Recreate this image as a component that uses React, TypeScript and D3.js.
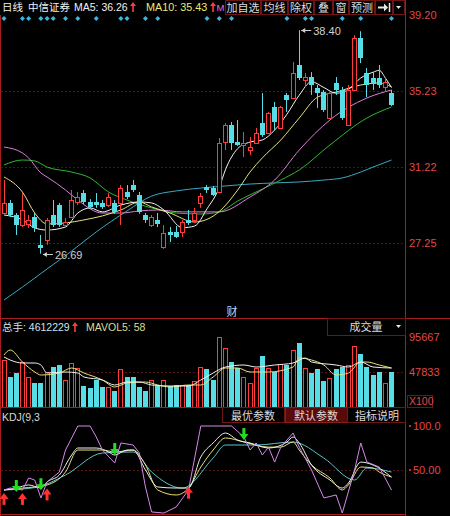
import React from "react";
import * as d3 from "d3";

// ---------- DATA ----------
const opens = [28.82,29.35,28.72,28.19,28.25,28.61,27.15,27.41,28.72,29.24,28.19,28.61,29.40,29.87,29.40,29.40,29.35,29.24,29.35,29.35,29.92,30.29,29.77,28.72,28.19,28.46,27.04,27.83,27.83,27.83,28.46,28.46,29.35,30.19,30.13,29.92,32.54,33.44,32.54,32.39,32.12,32.49,33.54,33.02,34.38,33.28,35.01,34.85,36.58,35.79,35.95,35.37,35.16,33.80,35.64,35.27,33.44,35.27,37.99,36.16,35.90,35.90,35.43,35.11];
const highs = [30.55,29.50,28.82,29.87,28.72,28.82,27.67,28.56,29.50,29.35,28.56,30.03,29.92,30.03,29.55,29.87,29.50,29.87,29.50,30.29,30.29,30.55,29.92,28.82,28.72,28.82,28.19,28.09,28.14,28.46,28.98,29.09,29.87,30.29,30.24,32.75,33.54,33.59,33.70,33.07,32.81,33.28,35.11,34.12,34.64,34.43,35.11,36.74,38.40,36.16,36.21,35.53,35.27,35.16,35.95,35.43,35.53,38.15,38.35,36.42,36.21,36.58,35.90,35.27];
const lows = [28.78,28.61,27.67,28.09,28.04,27.83,26.69,27.15,28.09,28.09,28.04,28.56,29.24,29.29,29.09,29.09,29.04,29.14,28.78,28.19,29.55,29.92,28.78,28.30,28.09,28.09,26.94,27.30,27.51,27.57,28.19,28.30,29.09,29.87,29.71,29.87,32.12,32.12,32.34,31.76,31.86,32.44,32.81,32.96,33.17,33.23,34.12,34.80,35.79,35.43,35.01,34.33,34.12,33.75,35.01,33.70,33.39,35.22,36.68,34.90,35.27,35.37,35.16,34.43];
const closes = [29.35,28.72,28.19,28.98,28.46,28.04,26.99,28.46,28.19,28.19,28.35,29.50,29.66,29.40,29.14,29.24,29.14,29.66,28.88,30.13,29.66,30.03,28.88,28.46,28.61,28.25,27.78,27.67,27.57,28.35,28.30,28.82,29.71,30.03,29.77,32.49,33.44,32.49,32.39,32.49,32.28,33.02,32.91,34.06,33.59,34.38,34.75,36.16,35.90,35.95,35.53,35.11,34.22,35.11,35.27,33.80,35.27,37.99,36.95,35.53,35.58,35.53,35.69,34.48];
const volumes = [64000,41000,46500,61500,41000,33000,33000,48000,54700,57400,37000,60000,53000,28700,26000,37000,27300,27300,22000,52000,41000,41000,27300,22000,37000,28700,37000,28700,30000,30000,30000,35500,54700,52000,37000,95667,80600,61500,53000,41000,33000,53000,69700,53000,48000,59000,57400,78000,87500,53000,46500,52000,35500,39600,52000,54700,57400,83400,72400,54700,43700,48000,33000,48000];

// moving averages: [candle index, value]
const ma5 = [[0,28.72],[3,28.46],[5,28.04],[7,27.93],[10,28.09],[12,28.82],[14,29.09],[16,28.88],[19,29.24],[22,29.40],[24,29.35],[26,28.98],[29,28.05],[31,28.14],[33,29.04],[35,30.16],[36,31.09],[38,32.2],[40,32.54],[42,32.65],[44,33.17],[46,34.0],[48,35.0],[50,35.7],[52,35.4],[54,35.1],[56,35.3],[58,35.9],[60,36.2],[61,36.3],[62,35.9],[63,35.4]];
const ma10 = [[0,30.71],[3,29.92],[5,28.82],[7,28.25],[10,28.30],[13,28.46],[16,28.67],[19,28.98],[22,29.40],[24,29.14],[27,28.82],[31,28.35],[35,28.9],[38,30.03],[40,30.97],[42,31.71],[45,32.65],[48,33.80],[51,34.90],[54,35.16],[58,35.53],[61,35.64],[63,35.43]];
const ma20 = [[0,32.28],[3,31.97],[4,31.71],[6,30.92],[7,30.71],[10,30.03],[12,29.50],[16,28.82],[19,28.82],[22,28.93],[25,28.98],[29,28.88],[35,28.88],[40,29.66],[44,30.55],[48,32.12],[53,33.70],[59,34.85],[63,35.27]];
const ma30 = [[0,31.34],[3,31.60],[5,31.55],[7,31.23],[11,30.97],[14,30.66],[17,29.92],[20,29.50],[24,29.09],[28,28.82],[32,28.77],[35,28.88],[38,29.45],[42,30.08],[45,30.55],[48,31.08],[53,32.39],[59,33.80],[63,34.38]];
const ma60 = [[0,24.26],[3,24.94],[7,25.89],[11,26.83],[15,27.83],[20,28.93],[24,29.71],[28,29.98],[32,30.13],[36,30.24],[40,30.34],[44,30.40],[48,30.45],[52,30.55],[55,30.66],[58,30.97],[60,31.23],[63,31.60]];

const volMa5 = [[0,68333],[1,64233],[3,60133],[5,60133],[6,57400],[7,46467],[10,47833],[12,46467],[13,41000],[16,36900],[18,30067],[20,34167],[22,34167],[24,30067],[27,28700],[30,28700],[32,36900],[34,46467],[36,54667],[39,57400],[41,54667],[44,57400],[47,60133],[49,66967],[50,61500],[54,57400],[56,54667],[58,61500],[60,54667],[63,53300]];
const volMa10 = [[0,71067],[1,77900],[3,61500],[5,47833],[6,43733],[9,46467],[11,53300],[13,46467],[16,36900],[18,27333],[20,32800],[23,34167],[25,30067],[27,27333],[30,30067],[32,30067],[34,41000],[36,53300],[38,53300],[40,47833],[43,47833],[47,54667],[48,66967],[50,64233],[52,57400],[54,43733],[56,46467],[58,61500],[59,61500],[61,57400],[63,53300]];

const kLine = [[0,27.3],[2,29.5],[4,33],[6,29.5],[7,36.4],[9,44.3],[11,67],[12,75],[15,75],[17,70.5],[18,67],[20,72.7],[21,72.7],[23,50],[25,30.7],[28,29.5],[30,29.5],[32,64.8],[34,80.7],[36,92],[38,84],[40,80.7],[43,75],[46,81.8],[47,87.5],[48,80.7],[50,55.7],[53,38.6],[55,29.5],[56,35.2],[58,59],[60,55.7],[63,42]];
const dLine = [[0,27.3],[3,29.5],[5,30.7],[7,33],[10,47.7],[12,72.7],[16,72.7],[18,70.5],[21,72.7],[23,55.7],[25,27.3],[28,21.6],[30,29.5],[32,53.4],[34,72.7],[36,86.4],[39,81.8],[43,76],[45,76],[47,81.8],[48,72.7],[50,55.7],[53,40.9],[55,27.3],[56,33],[58,53.4],[60,52.3],[61,47.7],[63,42]];
const jLine = [[0,27.3],[1,29.5],[3,27.3],[4,40.9],[5,38.6],[6,18.2],[7,36.4],[9,47.7],[10,72.7],[12,100],[14,100],[15,87.5],[16,72.7],[18,58],[19,80.7],[21,78.4],[22,69.3],[23,30.7],[24,2.3],[26,1.1],[28,8],[30,27.3],[32,100],[37,100],[39,87.5],[40,72.7],[41,80.7],[42,67],[43,76],[44,59],[45,76],[47,92],[48,76],[50,50],[52,18.2],[54,21.6],[55,1.1],[57,50],[58,80.7],[59,59],[61,53.4],[63,27.3]];
const eLine = [[0,27.3],[5,30],[10,44.3],[16,69.3],[21,70.5],[24,47.7],[29,29.5],[34,63.6],[36,78.4],[41,78.4],[47,81.8],[52,63.6],[57,38.6],[59,52.3],[63,47.7]];

const buySignals = [[0,24],[3,24],[7,29],[30,31]];
const sellSignals = [[2,25],[6,27],[18,67],[39,84]];
const infoMarks = [0,3,4,6,7,8,10,12,15,19,20,23,25,33,35,37,46,49,50,55,58,63];

const priceTicks = [39.20, 35.23, 31.22, 27.25];
const volTicks = [95667, 47833];
const kdjTicks = [[100, "100.0"], [50, "50.00"]];
const highMark = [48, 38.40];
const lowMark = [6, 26.69];

const topButtons = ["加自选", "均线", "除权", "叠", "窗", "预测"];
const kdjButtons = ["最优参数", "默认参数", "指标说明"];

// ---------- STYLE ----------
const RED = "#ff3b3b";
const CYAN = "#56dde6";
const AXIS = "#a81c1c";
const LABEL = "#e04848";
const GRID = "#551414";
const FONT = "'Liberation Sans','Noto Sans CJK SC',sans-serif";

export default function App() {
  const N = closes.length;
  const x = d3.scaleLinear().domain([0, N - 1]).range([4, 391.5]);
  const yP = d3.scaleLinear().domain([27.25, 39.2]).range([243, 15]);
  const yV = d3.scaleLinear().domain([0, 95667]).range([407, 337]);
  const yK = d3.scaleLinear().domain([0, 100]).range([514, 426]);

  const px = (i: number) => Math.floor(x(i)) + 0.5;
  const lineP = d3.line<number[]>().x(d => x(d[0])).y(d => yP(d[1])).curve(d3.curveMonotoneX);
  const lineV = d3.line<number[]>().x(d => x(d[0])).y(d => yV(d[1])).curve(d3.curveMonotoneX);
  const lineK = d3.line<number[]>().x(d => x(d[0])).y(d => yK(d[1])).curve(d3.curveMonotoneX);
  const lineJ = d3.line<number[]>().x(d => x(d[0])).y(d => yK(d[1])).curve(d3.curveLinear);

  // top button geometry
  const btnEdges = [225, 261, 288, 314, 333, 349, 375, 393, 405];

  const upArrow = (ax: number, ay: number, color: string) => (
    <g>
      <line x1={ax} x2={ax} y1={ay - 3} y2={ay + 5} stroke={color} strokeWidth={1.6} />
      <path d={`M${ax - 3},${ay - 1} L${ax},${ay - 5} L${ax + 3},${ay - 1} Z`} fill={color} />
    </g>
  );

  return (
    <svg width={450} height={516} style={{ position: "absolute", left: 0, top: 0, display: "block", background: "#000" }} fontFamily={FONT}>
      <defs>
        <clipPath id="pclip"><rect x={1} y={15} width={404} height={303} /></clipPath>
        <clipPath id="vclip"><rect x={1} y={336} width={404} height={71} /></clipPath>
        <clipPath id="kclip"><rect x={1} y={424} width={404} height={90} /></clipPath>
      </defs>
      <rect x={0} y={0} width={450} height={516} fill="#000" />

      {/* grids */}
      {priceTicks.slice(1).map((t, i) => (
        <line key={i} x1={1} x2={405} y1={Math.round(yP(t)) + 0.5} y2={Math.round(yP(t)) + 0.5} stroke={GRID} strokeDasharray="2,2" />
      ))}
      <line x1={1} x2={405} y1={Math.round(yV(47833)) + 0.5} y2={Math.round(yV(47833)) + 0.5} stroke={GRID} strokeDasharray="2,2" />
      <line x1={1} x2={405} y1={Math.round(yK(50)) + 0.5} y2={Math.round(yK(50)) + 0.5} stroke={GRID} strokeDasharray="2,2" />

      {/* frame lines */}
      <line x1={0.5} x2={0.5} y1={15} y2={516} stroke={AXIS} />
      <line x1={405.5} x2={405.5} y1={0} y2={516} stroke={AXIS} />
      <line x1={0} x2={450} y1={318.5} y2={318.5} stroke={AXIS} />
      <line x1={0} x2={405} y1={407.5} y2={407.5} stroke={AXIS} />
      <line x1={0} x2={405} y1={514.5} y2={514.5} stroke={AXIS} />

      {/* header */}
      <g fontSize={11}>
        <text x={2} y={11} fill="#f0f0f0" fontSize={10.5}>日线</text>
        <text x={28} y={11} fill="#f0f0f0" fontSize={10.5}>中信证券</text>
        <text x={74} y={11} fill="#f0f0f0" fontSize={10.5}>MA5: 36.26</text>
        {upArrow(133, 7, RED)}
        <text x={146} y={11} fill="#eaea78" fontSize={10.8}>MA10: 35.43</text>
        {upArrow(213, 7, RED)}
        <text x={216.5} y={11} fill="#e070e0" fontSize={9.5}>M</text>
      </g>
      {btnEdges.slice(0, -1).map((e, i) => (
        <rect key={i} x={e + 0.5} y={0.5} width={btnEdges[i + 1] - e - 1} height={14} fill="#000" stroke="#6e1616" />
      ))}
      {topButtons.map((b, i) => (
        <text key={b} x={(btnEdges[i] + btnEdges[i + 1]) / 2} y={11.5} textAnchor="middle" fill="#dcdcdc" fontSize={11}>{b}</text>
      ))}
      <g fill="#e8e8e8" stroke="#e8e8e8">
        <path d="M378,7.5 L385,7.5" strokeWidth={2} />
        <path d="M384,3.5 L388,7.5 L384,11.5 Z" stroke="none" />
        <line x1={389.5} x2={389.5} y1={3} y2={12} strokeWidth={1.5} />
        <path d="M396,6 L401,6 L398.5,9 Z" stroke="none" />
      </g>
      {infoMarks.map(i => (
        <path key={i} d={`M${x(i)},${16} L${x(i) + 2.5},${18.5} L${x(i)},${21} L${x(i) - 2.5},${18.5} Z`} fill="#3ab6e0" />
      ))}

      {/* price axis labels */}
      {priceTicks.map(t => (
        <text key={t} x={409} y={yP(t) + 4} fill={LABEL} fontSize={11}>{t.toFixed(2)}</text>
      ))}

      {/* moving averages */}
      <g clipPath="url(#pclip)" fill="none" strokeWidth={1}>
        <path d={lineP(ma60) || ""} stroke="#3aa8c0" />
        <path d={lineP(ma30) || ""} stroke="#2fb82f" />
        <path d={lineP(ma20) || ""} stroke="#d880d8" />
        <path d={lineP(ma10) || ""} stroke="#e6e27a" />
        <path d={lineP(ma5) || ""} stroke="#f4f4f4" />
      </g>

      {/* candles */}
      <g clipPath="url(#pclip)">
        {closes.map((c, i) => {
          const o = opens[i];
          const cx = px(i);
          const top = Math.round(yP(Math.max(o, c)));
          const bot = Math.round(yP(Math.min(o, c)));
          const hy = yP(highs[i]);
          const ly = yP(lows[i]);
          if (c >= o) {
            return (
              <g key={i} stroke={RED}>
                <line x1={cx} x2={cx} y1={hy} y2={top + 0.5} />
                <line x1={cx} x2={cx} y1={bot + 0.5} y2={ly} />
                <rect x={cx - 2} y={top + 0.5} width={4} height={Math.max(bot - top, 1)} fill="#000" />
              </g>
            );
          }
          return (
            <g key={i}>
              <line x1={cx} x2={cx} y1={hy} y2={ly} stroke={CYAN} />
              <rect x={cx - 2.5} y={top} width={5} height={Math.max(bot - top, 1)} fill={CYAN} />
            </g>
          );
        })}
      </g>

      {/* high / low labels */}
      {[highMark, lowMark].map((m, k) => {
        const ax = x(m[0]) + 2;
        const ay = Math.round(yP(m[1])) + 0.5;
        return (
          <g key={k}>
            <line x1={ax} x2={ax + 10} y1={ay} y2={ay} stroke="#d0d0d0" />
            <path d={`M${ax},${ay} L${ax + 4},${ay - 2.5} L${ax + 4},${ay + 2.5} Z`} fill="#d0d0d0" />
            <text x={ax + 12} y={ay + 4} fill="#d0d0d0" fontSize={11}>{m[1].toFixed(2)}</text>
          </g>
        );
      })}

      <text x={232} y={316} textAnchor="middle" fill="#b8d8f8" fontSize={11}>财</text>

      {/* volume header */}
      <text x={2} y={331} fill="#cfe2ee" fontSize={10.5}>总手: 4612229</text>
      {upArrow(75, 327, RED)}
      <text x={86} y={331} fill="#dcdc90" fontSize={10.5}>MAVOL5: 58</text>
      <rect x={327.5} y={318.5} width={78} height={17} fill="#000" stroke="#6e1616" />
      <text x={366} y={331} textAnchor="middle" fill="#dcdcdc" fontSize={11}>成交量</text>
      <path d="M396,325 L401,325 L398.5,328 Z" fill="#e8e8e8" />
      {volTicks.map(t => (
        <text key={t} x={409} y={yV(t) + 4} fill={LABEL} fontSize={11}>{t}</text>
      ))}
      <rect x={407.5} y={395.5} width={25} height={12} fill="none" stroke="#6e1616" />
      <text x={409} y={405} fill={LABEL} fontSize={10.5}>X100</text>

      {/* volume bars */}
      <g clipPath="url(#vclip)">
        {volumes.map((v, i) => {
          const cx = px(i);
          const top = Math.round(yV(v));
          if (closes[i] >= opens[i]) {
            return <rect key={i} x={cx - 2} y={top + 0.5} width={4} height={407 - top} fill="#000" stroke={RED} />;
          }
          return <rect key={i} x={cx - 2.5} y={top} width={5} height={407 - top} fill={CYAN} />;
        })}
      </g>
      <g clipPath="url(#vclip)" fill="none">
        <path d={lineV(volMa10) || ""} stroke="#e6e27a" />
        <path d={lineV(volMa5) || ""} stroke="#f0f0f0" />
      </g>

      {/* KDJ header */}
      <text x={2} y={421} fill="#d8d8d8" fontSize={10.5}>KDJ(9,3</text>
      <rect x={222.5} y={407.5} width={62} height={15} fill="#000" stroke="#6e1616" />
      <rect x={285.5} y={407.5} width={62} height={15} fill="#5a0a0a" stroke="#8a1c1c" />
      <rect x={347.5} y={407.5} width={58} height={15} fill="#000" stroke="#6e1616" />
      {kdjButtons.map((b, i) => (
        <text key={b} x={[253, 316, 377][i]} y={419.5} textAnchor="middle" fill="#dcdcdc" fontSize={11}>{b}</text>
      ))}
      {kdjTicks.map(([v, s]) => (
        <g key={String(s)}>
          <circle cx={410} cy={yK(v as number)} r={1} fill={LABEL} />
          <text x={413} y={yK(v as number) + 4} fill={LABEL} fontSize={11}>{s}</text>
        </g>
      ))}

      {/* KDJ lines */}
      <g clipPath="url(#kclip)" fill="none">
        <path d={lineK(eLine) || ""} stroke="#5cc4c8" />
        <path d={lineK(dLine) || ""} stroke="#e6e27a" />
        <path d={lineK(kLine) || ""} stroke="#f0f0f0" />
        <path d={lineJ(jLine) || ""} stroke="#d48ae8" />
      </g>

      {/* signals */}
      {sellSignals.map(([i, v], k) => {
        const cx = x(i);
        const ty = yK(v);
        return (
          <g key={"s" + k} fill="#22dd22">
            <rect x={cx - 1.5} y={ty - 12} width={3} height={7} />
            <path d={`M${cx - 4.5},${ty - 6} L${cx + 4.5},${ty - 6} L${cx},${ty} Z`} />
          </g>
        );
      })}
      {buySignals.map(([i, v], k) => {
        const cx = x(i);
        const ty = yK(v);
        return (
          <g key={"b" + k} fill="#ff3030">
            <path d={`M${cx},${ty} L${cx - 4.5},${ty + 6} L${cx + 4.5},${ty + 6} Z`} />
            <rect x={cx - 1.5} y={ty + 5} width={3} height={7} />
          </g>
        );
      })}
    </svg>
  );
}
